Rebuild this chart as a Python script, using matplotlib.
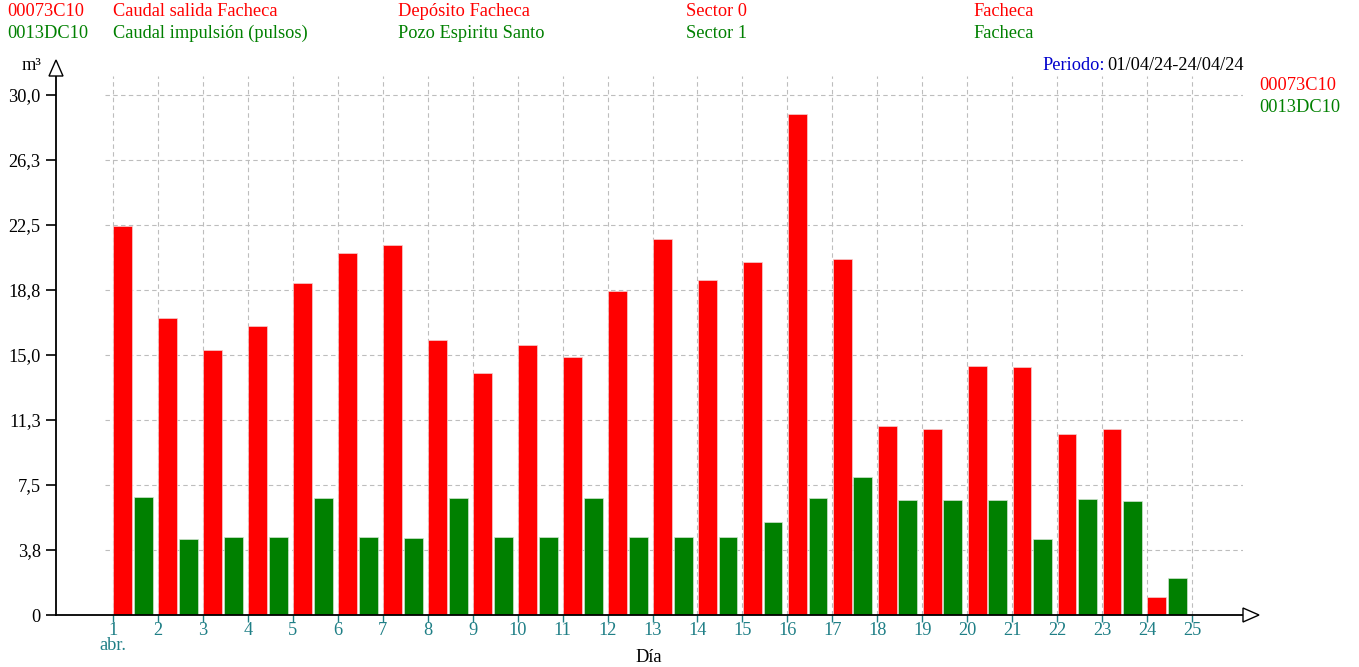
import matplotlib
matplotlib.use("Agg")
import matplotlib.pyplot as plt
from matplotlib.patches import Polygon

# data
days = list(range(1, 25))
caudal_salida = [22.45, 17.13, 15.29, 16.67, 19.17, 20.88, 21.37, 15.87, 13.96, 15.58,
                 14.88, 18.69, 21.69, 19.33, 20.37, 28.90, 20.54, 10.90, 10.73, 14.37,
                 14.31, 10.44, 10.73, 1.04]
caudal_impulsion = [6.81, 4.38, 4.50, 4.50, 6.75, 4.50, 4.44, 6.75, 4.50, 4.50,
                    6.75, 4.50, 4.50, 4.50, 5.37, 6.75, 7.96, 6.63, 6.63, 6.63,
                    4.38, 6.69, 6.58, 2.13]
tick_days = list(range(1, 26))
y_ticks = [0, 3.75, 7.5, 11.25, 15.0, 18.75, 22.5, 26.25, 30.0]
y_labels = ["0", "3,8", "7,5", "11,3", "15,0", "18,8", "22,5", "26,3", "30,0"]

RED = "#FF0000"
GREEN = "#008000"
TEAL = "#1F7F86"
W, H = 1359, 667
FS = 13.2

plt.rcParams["font.family"] = ["Liberation Serif", "DejaVu Serif"]
plt.rcParams["font.size"] = FS

fig = plt.figure(figsize=(W / 100, H / 100), dpi=100)

# axes box in pixels: y-axis at x=56, x-axis at y=615
x0, x1 = 56, 1243
y0, y1 = 615, 76
ax = fig.add_axes([x0 / W, 1 - y0 / H, (x1 - x0) / W, (y0 - y1) / H])

px_day = (1192 - 113) / 24.0
px_unit = (615 - 95) / 30.0
ax.set_xlim(1 - (113 - x0) / px_day, 1 + (x1 - 113) / px_day)
ax.set_ylim(0, (y0 - y1) / px_unit)

# grid
grid_kw = dict(color="#BDBDBD", linewidth=0.8, linestyles=(0, (4, 3)), zorder=0)
ax.hlines(y_ticks[1:], 0.82, 26.18, **grid_kw)
ax.vlines(tick_days, 0, ax.get_ylim()[1], **grid_kw)

# bars
bw = 0.42
ax.bar([d + 0.01 for d in days], caudal_salida, width=bw, align="edge",
       color=RED, edgecolor="#F4D0D0", linewidth=0.5, zorder=2)
ax.bar([d + 0.47 for d in days], caudal_impulsion, width=bw, align="edge",
       color=GREEN, edgecolor="#D0E4D0", linewidth=0.5, zorder=2)

for s in ["top", "right"]:
    ax.spines[s].set_visible(False)
for s in ["left", "bottom"]:
    ax.spines[s].set_linewidth(1.3)
ax.spines["bottom"].set_zorder(3)

ax.set_xticks(tick_days)
ax.set_xticklabels([str(d) for d in tick_days], color=TEAL, fontsize=FS)
ax.tick_params(axis="x", length=5, width=1, color=TEAL, pad=0)
ax.set_yticks(y_ticks)
ax.set_yticklabels(y_labels, fontsize=FS)
ax.tick_params(axis="y", length=7, width=1.2, pad=4)

# arrow heads
up = Polygon([(49 / W, 1 - 76 / H), (63 / W, 1 - 76 / H), (56 / W, 1 - 60 / H)],
             closed=True, transform=fig.transFigure, facecolor="white",
             edgecolor="black", linewidth=1, clip_on=False)
right = Polygon([(1243 / W, 1 - 608 / H), (1243 / W, 1 - 622 / H), (1259 / W, 1 - 615 / H)],
                closed=True, transform=fig.transFigure, facecolor="white",
                edgecolor="black", linewidth=1, clip_on=False)
fig.add_artist(up)
fig.add_artist(right)


def ftext(x, y, s, **kw):
    fig.text(x / W, 1 - y / H, s, va="center", **kw)


# header
ftext(7, 12, "00073C10", color=RED)
ftext(7, 33, "0013DC10", color=GREEN)
ftext(113, 12, "Caudal salida Facheca", color=RED)
ftext(113, 33, "Caudal impulsión (pulsos)", color=GREEN)
ftext(398, 12, "Depósito Facheca", color=RED)
ftext(398, 33, "Pozo Espiritu Santo", color=GREEN)
ftext(686, 12, "Sector 0", color=RED)
ftext(686, 33, "Sector 1", color=GREEN)
ftext(973, 12, "Facheca", color=RED)
ftext(973, 33, "Facheca", color=GREEN)

# period and legend
ftext(1244, 65, "01/04/24-24/04/24", color="black", ha="right")
ftext(1042, 65, "Periodo:", color="#0000CC")
ftext(1259, 86, "00073C10", color=RED)
ftext(1259, 107, "0013DC10", color=GREEN)

# axis labels
ftext(22, 66, "m³", color="black")
ftext(113, 645, "abr.", color=TEAL, ha="center")
ftext(649, 658, "Día", color="black", ha="center")

fig.savefig("out.png", dpi=100)
